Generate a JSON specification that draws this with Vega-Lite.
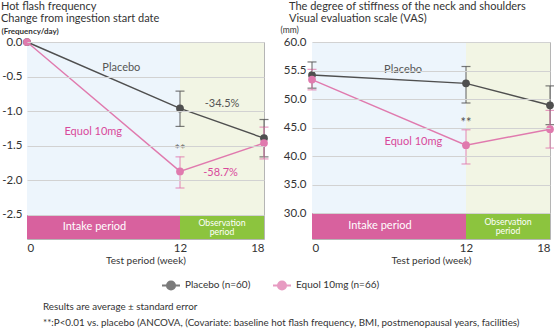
{
  "$schema": "https://vega.github.io/schema/vega-lite/v6.json",
  "autosize": {"type": "pad"},
  "padding": 0,
  "bounds": "flush",
  "spacing": 48,
  "config": {
    "font": "Lato",
    "view": {"stroke": "#b5b5b5", "strokeWidth": 1},
    "axis": {"labelFont": "Lato", "titleFont": "Lato", "labelColor": "#333", "titleColor": "#333", "labelOverlap": false},
    "legend": {
      "orient": "none", "legendX": 134, "legendY": 233, "direction": "horizontal",
      "symbolType": "M-1,0L-0.45,0M0.45,0L1,0M-0.45,0A0.45,0.45 0 1,0 0.45,0A0.45,0.45 0 1,0 -0.45,0Z",
      "symbolSize": 324, "symbolStrokeWidth": 2, "labelFontSize": 10, "labelColor": "#333",
      "labelFont": "Lato", "columnPadding": 18
    }
  },
  "datasets": {
    "periods": [
      {"week": 0, "week_end": 12, "period": "Intake period"},
      {"week": 12, "week_end": 18, "period": "Observation\nperiod"}
    ],
    "flash": [
      {"group": "Placebo (n=60)", "week": 0, "value": 0, "lo": null, "hi": null},
      {"group": "Placebo (n=60)", "week": 12, "value": -0.96, "lo": -1.22, "hi": -0.71},
      {"group": "Placebo (n=60)", "week": 18, "value": -1.39, "lo": -1.66, "hi": -1.12},
      {"group": "Equol 10mg (n=66)", "week": 0, "value": 0, "lo": null, "hi": null},
      {"group": "Equol 10mg (n=66)", "week": 12, "value": -1.87, "lo": -2.11, "hi": -1.66},
      {"group": "Equol 10mg (n=66)", "week": 18, "value": -1.46, "lo": -1.69, "hi": -1.23}
    ],
    "vas": [
      {"group": "Placebo (n=60)", "week": 0, "value": 54.2, "lo": 51.9, "hi": 56.5},
      {"group": "Placebo (n=60)", "week": 12, "value": 52.75, "lo": 49.3, "hi": 55.7},
      {"group": "Placebo (n=60)", "week": 18, "value": 48.9, "lo": 45.5, "hi": 52.3},
      {"group": "Equol 10mg (n=66)", "week": 0, "value": 53.4, "lo": 51.6, "hi": 55.2},
      {"group": "Equol 10mg (n=66)", "week": 12, "value": 41.9, "lo": 38.6, "hi": 44.6},
      {"group": "Equol 10mg (n=66)", "week": 18, "value": 44.7, "lo": 41.4, "hi": 48.0}
    ],
    "flash_notes": [
      {"label": "Placebo", "week": 7.4, "value": -0.38, "kind": "gray"},
      {"label": "-34.5%", "week": 15.0, "value": -0.9, "kind": "gray"},
      {"label": "Equol 10mg", "week": 5.2, "value": -1.3, "kind": "pink"},
      {"label": "**", "week": 12, "value": -1.56, "kind": "gray"},
      {"label": "-58.7%", "week": 14.9, "value": -1.89, "kind": "pink"}
    ],
    "vas_notes": [
      {"label": "Placebo", "week": 7.1, "value": 55.1, "kind": "gray"},
      {"label": "Equol 10mg", "week": 7.9, "value": 42.5, "kind": "pink"},
      {"label": "**", "week": 12, "value": 45.8, "kind": "gray"}
    ]
  },
  "title": {
    "text": ["Results are average ± standard error", "**:P<0.01 vs. placebo (ANCOVA, (Covariate: baseline hot flash frequency, BMI, postmenopausal years, facilities)"],
    "orient": "bottom", "anchor": "start", "frame": "group", "dx": 16, "offset": 8,
    "fontSize": 9.8, "fontWeight": "normal", "lineHeight": 16, "color": "#333", "font": "Lato"
  },
  "hconcat": [
    {
      "width": 237, "height": 197,
      "title": {"text": ["Hot flash frequency", "Change from ingestion start date"], "anchor": "start", "frame": "group", "dx": -26, "offset": 4, "fontSize": 11, "fontWeight": "normal", "lineHeight": 12, "color": "#333", "font": "Lato"},
      "layer": [
        {
          "data": {"name": "periods"},
          "mark": {"type": "rect"},
          "encoding": {
            "x": {"field": "week", "type": "quantitative", "title": "Test period (week)", "scale": {"domain": [0, 12, 18], "range": [0, 153, 237], "nice": false, "zero": false},
              "axis": {"title": "Test period (week)", "values": [0, 12, 18], "tickCount": 10, "ticks": false, "domain": false, "grid": false, "labelPadding": 3, "labelFontSize": 11.5, "titleFontSize": 10, "titleFontWeight": "normal", "titlePadding": 2}},
            "x2": {"field": "week_end"},
            "y": {"datum": 0, "type": "quantitative", "title": "(Frequency/day)", "scale": {"domain": [-2.847, 0], "nice": false, "zero": false},
              "axis": {"title": "(Frequency/day)", "titleAngle": 0, "titleAlign": "left", "titleBaseline": "alphabetic", "titleX": -26, "titleY": -8.5, "titleFontSize": 8, "titleFontWeight": "bold", "values": [0, -0.5, -1, -1.5, -2, -2.5], "tickCount": 12, "labelExpr": "replace(format(datum.value, '.1f'), '\u2212', '-')", "labelOverlap": false, "labelPadding": 5, "ticks": false, "domain": false, "grid": true, "gridColor": "#d2d2d2", "zindex": 1, "labelFontSize": 11.5}},
            "y2": {"datum": -2.5},
            "fill": {"condition": {"test": "datum.period == 'Intake period'", "value": "#edf5fc"}, "value": "#f2f5e4"}
          }
        },
        {
          "data": {"name": "periods"},
          "mark": {"type": "rect"},
          "encoding": {
            "x": {"field": "week", "type": "quantitative", "title": "Test period (week)"},
            "x2": {"field": "week_end"},
            "y": {"datum": -2.5, "type": "quantitative", "title": "(Frequency/day)"},
            "y2": {"datum": -2.847},
            "fill": {"condition": {"test": "datum.period == 'Intake period'", "value": "#d8619e"}, "value": "#8cc43e"}
          }
        },
        {
          "data": {"name": "periods"},
          "transform": [{"filter": "datum.period == 'Intake period'"}, {"calculate": "(datum.week + datum.week_end) / 2", "as": "mid"}],
          "mark": {"type": "text", "color": "white", "font": "Lato", "fontSize": 11, "baseline": "middle", "dx": -9},
          "encoding": {
            "x": {"field": "mid", "type": "quantitative", "title": "Test period (week)"},
            "y": {"datum": -2.675, "type": "quantitative", "title": "(Frequency/day)"},
            "text": {"field": "period"}
          }
        },
        {
          "data": {"name": "periods"},
          "transform": [{"filter": "datum.period != 'Intake period'"}, {"calculate": "(datum.week + datum.week_end) / 2", "as": "mid"}],
          "mark": {"type": "text", "color": "white", "lineBreak": "\n", "lineHeight": 9.5, "font": "Lato", "fontSize": 8.7, "baseline": "middle", "dy": -4.5},
          "encoding": {
            "x": {"field": "mid", "type": "quantitative", "title": "Test period (week)"},
            "y": {"datum": -2.675, "type": "quantitative", "title": "(Frequency/day)"},
            "text": {"field": "period"}
          }
        },
        {
          "data": {"name": "flash"},
          "transform": [{"filter": "datum.lo != null"}],
          "mark": {"type": "errorbar", "ticks": {"size": 9}, "thickness": 1.2, "opacity": 0.75},
          "encoding": {
            "x": {"field": "week", "type": "quantitative", "title": "Test period (week)"},
            "y": {"field": "lo", "type": "quantitative", "title": "(Frequency/day)"},
            "y2": {"field": "hi"},
            "color": {"field": "group", "type": "nominal", "scale": {"domain": ["Placebo (n=60)", "Equol 10mg (n=66)"], "range": ["#4f4f4f", "#e07aae"]}, "legend": {"title": null}}
          }
        },
        {
          "data": {"name": "flash"},
          "mark": {"type": "line", "strokeWidth": 1.4},
          "encoding": {
            "x": {"field": "week", "type": "quantitative", "title": "Test period (week)"},
            "y": {"field": "value", "type": "quantitative", "title": "(Frequency/day)"},
            "color": {"field": "group", "type": "nominal", "legend": {"title": null}},
            "order": {"field": "week"}
          }
        },
        {
          "data": {"name": "flash"},
          "mark": {"type": "point", "filled": true, "opacity": 1, "size": 60},
          "encoding": {
            "x": {"field": "week", "type": "quantitative", "title": "Test period (week)"},
            "y": {"field": "value", "type": "quantitative", "title": "(Frequency/day)"},
            "color": {"field": "group", "type": "nominal", "legend": {"title": null}}
          }
        },
        {
          "data": {"name": "flash_notes"},
          "mark": {"type": "text", "fontSize": 11, "font": "Lato", "baseline": "middle"},
          "encoding": {
            "x": {"field": "week", "type": "quantitative", "title": "Test period (week)"},
            "y": {"field": "value", "type": "quantitative", "title": "(Frequency/day)"},
            "text": {"field": "label"},
            "size": {"condition": {"test": "datum.label == '**'", "value": 13}, "value": 11},
            "fill": {"condition": {"test": "datum.kind == 'pink'", "value": "#d9499b"}, "value": "#555555"}
          }
        }
      ]
    },
    {
      "width": 238, "height": 197,
      "title": {"text": ["The degree of stiffness of the neck and shoulders", "Visual evaluation scale (VAS)"], "anchor": "start", "frame": "group", "dx": -23, "offset": 2, "fontSize": 11, "fontWeight": "normal", "lineHeight": 12, "color": "#333", "font": "Lato"},
      "layer": [
        {
          "data": {"name": "periods"},
          "mark": {"type": "rect"},
          "encoding": {
            "x": {"field": "week", "type": "quantitative", "title": "Test period (week)", "scale": {"domain": [0, 12, 18], "range": [0, 154, 238], "nice": false, "zero": false},
              "axis": {"title": "Test period (week)", "values": [0, 12, 18], "tickCount": 10, "ticks": false, "domain": false, "grid": false, "labelPadding": 3, "labelFontSize": 11.5, "titleFontSize": 10, "titleFontWeight": "normal", "titlePadding": 2}},
            "x2": {"field": "week_end"},
            "y": {"datum": 60, "type": "quantitative", "title": "(mm)", "scale": {"domain": [25.44, 60], "nice": false, "zero": false},
              "axis": {"title": "(mm)", "titleAngle": 0, "titleAlign": "left", "titleBaseline": "alphabetic", "titleX": -32, "titleY": -9.5, "titleFontSize": 8.5, "titleFontWeight": "normal", "values": [30, 35, 40, 45, 50, 55, 60], "tickCount": 14, "labelExpr": "datum.value == 55 ? '55.5' : format(datum.value, '.1f')", "labelOverlap": false, "labelPadding": 6, "ticks": false, "domain": false, "grid": true, "gridColor": "#d2d2d2", "zindex": 1, "labelFontSize": 11.5}},
            "y2": {"datum": 30},
            "fill": {"condition": {"test": "datum.period == 'Intake period'", "value": "#edf5fc"}, "value": "#f2f5e4"}
          }
        },
        {
          "data": {"name": "periods"},
          "mark": {"type": "rect"},
          "encoding": {
            "x": {"field": "week", "type": "quantitative", "title": "Test period (week)"},
            "x2": {"field": "week_end"},
            "y": {"datum": 30, "type": "quantitative", "title": "(mm)"},
            "y2": {"datum": 25.44},
            "fill": {"condition": {"test": "datum.period == 'Intake period'", "value": "#d8619e"}, "value": "#8cc43e"}
          }
        },
        {
          "data": {"name": "periods"},
          "transform": [{"filter": "datum.period == 'Intake period'"}, {"calculate": "(datum.week + datum.week_end) / 2", "as": "mid"}],
          "mark": {"type": "text", "color": "white", "font": "Lato", "fontSize": 11, "baseline": "middle", "dx": -9},
          "encoding": {
            "x": {"field": "mid", "type": "quantitative", "title": "Test period (week)"},
            "y": {"datum": 27.72, "type": "quantitative", "title": "(mm)"},
            "text": {"field": "period"}
          }
        },
        {
          "data": {"name": "periods"},
          "transform": [{"filter": "datum.period != 'Intake period'"}, {"calculate": "(datum.week + datum.week_end) / 2", "as": "mid"}],
          "mark": {"type": "text", "color": "white", "lineBreak": "\n", "lineHeight": 9.5, "font": "Lato", "fontSize": 8.7, "baseline": "middle", "dy": -4.5},
          "encoding": {
            "x": {"field": "mid", "type": "quantitative", "title": "Test period (week)"},
            "y": {"datum": 27.72, "type": "quantitative", "title": "(mm)"},
            "text": {"field": "period"}
          }
        },
        {
          "data": {"name": "vas"},
          "mark": {"type": "errorbar", "ticks": {"size": 9}, "thickness": 1.2, "opacity": 0.75},
          "encoding": {
            "x": {"field": "week", "type": "quantitative", "title": "Test period (week)"},
            "y": {"field": "lo", "type": "quantitative", "title": "(mm)"},
            "y2": {"field": "hi"},
            "color": {"field": "group", "type": "nominal", "legend": {"title": null}}
          }
        },
        {
          "data": {"name": "vas"},
          "mark": {"type": "line", "strokeWidth": 1.4},
          "encoding": {
            "x": {"field": "week", "type": "quantitative", "title": "Test period (week)"},
            "y": {"field": "value", "type": "quantitative", "title": "(mm)"},
            "color": {"field": "group", "type": "nominal", "legend": {"title": null}},
            "order": {"field": "week"}
          }
        },
        {
          "data": {"name": "vas"},
          "mark": {"type": "point", "filled": true, "opacity": 1, "size": 60},
          "encoding": {
            "x": {"field": "week", "type": "quantitative", "title": "Test period (week)"},
            "y": {"field": "value", "type": "quantitative", "title": "(mm)"},
            "color": {"field": "group", "type": "nominal", "legend": {"title": null}}
          }
        },
        {
          "data": {"name": "vas_notes"},
          "mark": {"type": "text", "fontSize": 11, "font": "Lato", "baseline": "middle"},
          "encoding": {
            "x": {"field": "week", "type": "quantitative", "title": "Test period (week)"},
            "y": {"field": "value", "type": "quantitative", "title": "(mm)"},
            "text": {"field": "label"},
            "size": {"condition": {"test": "datum.label == '**'", "value": 13}, "value": 11},
            "fill": {"condition": {"test": "datum.kind == 'pink'", "value": "#d9499b"}, "value": "#555555"}
          }
        }
      ]
    }
  ]
}
